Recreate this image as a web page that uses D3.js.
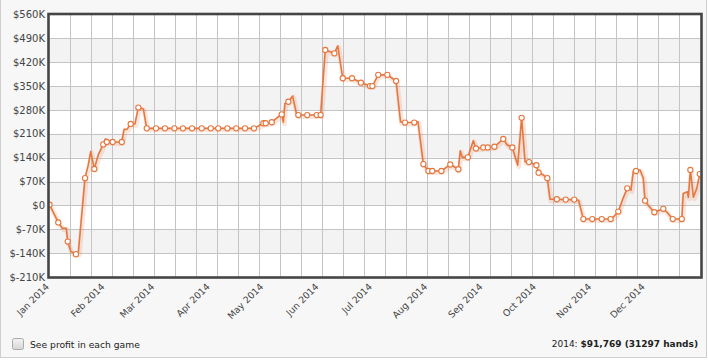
<!DOCTYPE html>
<html>
<head>
<meta charset="utf-8">
<script src="https://cdn.jsdelivr.net/npm/d3@7"></script>
<style>
  html, body { margin: 0; padding: 0; background: #ffffff; }
  svg { display: block; }
</style>
</head>
<body>
<svg id="chart" width="708" height="361"></svg>
<script>
// ---- data (day offset from 2014-01-01, cumulative profit in $K) ----
const days = [0.3, 5.2, 7.5, 9.7, 10.5, 12.3, 14.2, 15.1, 16.4, 20.2, 22.0, 23.4, 25.4, 27.6, 30.4, 31.7, 32.4,
  35.7, 40.8, 42.1, 43.7, 45.8, 48.2, 50.1, 52.9, 54.8, 60.0, 65.0, 70.3, 75.1, 80.2, 85.6, 90.7, 94.9,
  100.0, 105.0, 109.9, 114.9, 120.2, 121.5, 124.9, 129.0, 130.5, 131.4, 132.3, 134.2, 136.6, 138.9, 139.8,
  144.8, 150.1, 152.3, 154.9, 160.0, 161.9, 164.7, 169.9, 174.9, 180.0, 181.3, 184.6, 189.7, 194.6, 197.1,
  199.6, 204.8, 206.9, 209.9, 212.7, 214.9, 220.0, 225.0, 229.5, 230.6, 231.7, 234.8, 237.9, 239.4, 243.5,
  246.0, 249.7, 254.7, 256.8, 259.8, 262.8, 265.0, 266.9, 269.1, 273.3, 274.5, 276.4, 279.4, 280.9, 284.7,
  289.7, 294.5, 296.9, 299.6, 304.6, 309.9, 314.9, 316.8, 319.2, 321.8, 324.2, 326.3, 327.6, 329.1, 331.4,
  333.2, 334.2, 336.0, 339.4, 344.4, 346.5, 349.7, 354.8, 355.6, 357.9, 358.5, 359.6, 361.3, 363.2, 364.9];
const profitK = [2, -50, -67, -67, -106, -136, -139, -143, -141, 80, 118, 158, 107, 148, 179, 195, 186,
  186, 186, 223, 223, 239, 239, 287, 283, 226, 226, 226, 226, 226, 226, 226, 226, 226,
  226, 226, 226, 226, 241, 241, 244, 262, 267, 244, 299, 304, 321, 265, 265,
  265, 265, 265, 456, 446, 468, 373, 373, 360, 350, 350, 383, 383, 365, 245,
  243, 243, 245, 121, 101, 101, 101, 120, 106, 160, 141, 141, 190, 167, 170,
  170, 172, 195, 178, 170, 118, 257, 128, 127, 118, 96, 92, 80, 18, 18,
  17, 17, 15, -40, -40, -40, -40, -32, -18, 20, 50, 45, 100, 101, 104,
  80, 14, 0, -20, -10, -20, -40, -40, 35, 40, 24, 104, 24, 50, 92];
const marker = [1, 1, 0, 0, 1, 0, 0, 1, 0, 1, 0, 0, 1, 0, 1, 0, 1,
  1, 1, 0, 0, 1, 0, 1, 0, 1, 1, 1, 1, 1, 1, 1, 1, 1,
  1, 1, 1, 1, 1, 1, 1, 0, 1, 0, 0, 1, 0, 0, 1,
  1, 1, 1, 1, 1, 0, 1, 1, 1, 1, 1, 1, 1, 1, 0,
  1, 1, 0, 1, 1, 1, 1, 1, 1, 0, 0, 1, 0, 1, 1,
  1, 1, 1, 0, 1, 0, 1, 0, 1, 1, 1, 0, 1, 0, 1,
  1, 1, 0, 1, 1, 1, 1, 0, 1, 0, 1, 0, 0, 1, 0,
  0, 1, 0, 1, 1, 0, 1, 1, 0, 0, 0, 1, 0, 0, 1];
const yTicksK = [-210, -140, -70, 0, 70, 140, 210, 280, 350, 420, 490, 560];
const monthLabels = ["Jan 2014", "Feb 2014", "Mar 2014", "Apr 2014", "May 2014", "Jun 2014",
  "Jul 2014", "Aug 2014", "Sep 2014", "Oct 2014", "Nov 2014", "Dec 2014"];
const checkboxLabel = "See profit in each game";
const summaryYear = "2014: ";
const summaryValue = "$91,769 (31297 hands)";

// ---- layout ----
const W = 708, H = 361;
const plot = { left: 49, right: 700, top: 14.5, bottom: 277 };
const orange = "#e5773f";
const font = "'DejaVu Sans', Verdana, sans-serif";

const start = new Date(2014, 0, 1);
const dateOf = d => new Date(start.getTime() + d * 86400000);
const points = days.map((d, i) => ({ date: dateOf(d), v: profitK[i], m: marker[i] }));

const x = d3.scaleTime().domain([start, new Date(2015, 0, 1)]).range([plot.left, plot.right]);
const y = d3.scaleLinear().domain([-210, 560]).range([plot.bottom, plot.top]);
const gridX = d3.scaleLinear().domain([0, 31]).range([plot.left, plot.right]);

const svg = d3.select("#chart");

// outer panel
svg.append("rect").attr("x", 0.5).attr("y", -1).attr("width", W - 2).attr("height", H - 2.5)
  .attr("fill", "#f7f7f7").attr("stroke", "#cfcfcf");

// plot background + bands
svg.append("rect").attr("x", plot.left).attr("y", plot.top)
  .attr("width", plot.right - plot.left).attr("height", plot.bottom - plot.top).attr("fill", "#ffffff");
svg.append("g").selectAll("rect")
  .data(yTicksK.slice(0, -1).map((t, i) => ({ t, i })).filter(d => d.i % 2 === 1))
  .join("rect")
  .attr("x", plot.left).attr("width", plot.right - plot.left)
  .attr("y", d => y(d.t + 70)).attr("height", d => y(d.t) - y(d.t + 70))
  .attr("fill", "#f3f3f3");

// grid
const grid = svg.append("g").attr("stroke", "#c4c4c4").attr("stroke-width", 1).attr("shape-rendering", "crispEdges");
grid.selectAll("line.h").data(yTicksK.slice(1, -1)).join("line").attr("class", "h")
  .attr("x1", plot.left).attr("x2", plot.right)
  .attr("y1", d => Math.round(y(d)) + 0.5).attr("y2", d => Math.round(y(d)) + 0.5);
grid.selectAll("line.v").data(d3.range(1, 31)).join("line").attr("class", "v")
  .attr("y1", plot.top).attr("y2", plot.bottom)
  .attr("x1", d => Math.round(gridX(d)) + 0.5).attr("x2", d => Math.round(gridX(d)) + 0.5);

// line
const line = d3.line().x(d => x(d.date)).y(d => y(d.v));
svg.append("clipPath").attr("id", "clip").append("rect")
  .attr("x", plot.left).attr("y", plot.top).attr("width", plot.right - plot.left).attr("height", plot.bottom - plot.top);
const series = svg.append("g").attr("clip-path", "url(#clip)");
series.append("path").datum(points).attr("d", line)
  .attr("fill", "none").attr("stroke", orange).attr("stroke-opacity", 0.18).attr("stroke-width", 5)
  .attr("stroke-linejoin", "round").attr("transform", "translate(1,1.5)");
series.append("path").datum(points).attr("d", line)
  .attr("fill", "none").attr("stroke", orange).attr("stroke-width", 1.6).attr("stroke-linejoin", "round");
series.selectAll("circle").data(points.filter(d => d.m)).join("circle")
  .attr("cx", d => x(d.date)).attr("cy", d => y(d.v)).attr("r", 2.6)
  .attr("fill", "#ffffff").attr("stroke", orange).attr("stroke-width", 1.1);

// plot border
svg.append("rect").attr("x", plot.left - 0.5).attr("y", plot.top - 0.5)
  .attr("width", plot.right - plot.left + 2).attr("height", plot.bottom - plot.top + 1)
  .attr("fill", "none").attr("stroke", "#454545").attr("stroke-width", 2.6);

// y axis labels
svg.append("g").selectAll("text").data(yTicksK).join("text")
  .attr("x", 45).attr("y", d => y(d)).attr("dy", "0.36em")
  .attr("text-anchor", "end").attr("font-family", font).attr("font-size", "10px").attr("fill", "#444")
  .text(d => d === 0 ? "$0" : (d < 0 ? "$-" + (-d) + "K" : "$" + d + "K"));

// x axis labels
const months = d3.timeMonth.range(start, new Date(2015, 0, 1));
svg.append("g").selectAll("text").data(months).join("text")
  .attr("transform", d => `translate(${x(d) - 1.5},${plot.bottom + 8}) rotate(-45)`)
  .attr("text-anchor", "end").attr("dy", "0.35em")
  .attr("font-family", font).attr("font-size", "9.3px").attr("fill", "#444")
  .text((d, i) => monthLabels[i]);

// checkbox
const defs = svg.append("defs");
const grad = defs.append("linearGradient").attr("id", "cb").attr("x1", 0).attr("y1", 0).attr("x2", 0).attr("y2", 1);
grad.append("stop").attr("offset", "0%").attr("stop-color", "#f4f4f4");
grad.append("stop").attr("offset", "100%").attr("stop-color", "#d6d6d6");
svg.append("rect").attr("x", 12.5).attr("y", 338.5).attr("width", 11).attr("height", 11).attr("rx", 2)
  .attr("fill", "url(#cb)").attr("stroke", "#a9a9a9");
svg.append("text").attr("x", 30).attr("y", 347.5).attr("font-family", font).attr("font-size", "9.2px")
  .attr("fill", "#222").text(checkboxLabel);

const summary = svg.append("text").attr("x", 698).attr("y", 347).attr("text-anchor", "end")
  .attr("font-family", font).attr("font-size", "9px").attr("fill", "#222");
summary.append("tspan").text(summaryYear);
summary.append("tspan").attr("font-weight", "bold").text(summaryValue);
</script>
</body>
</html>
